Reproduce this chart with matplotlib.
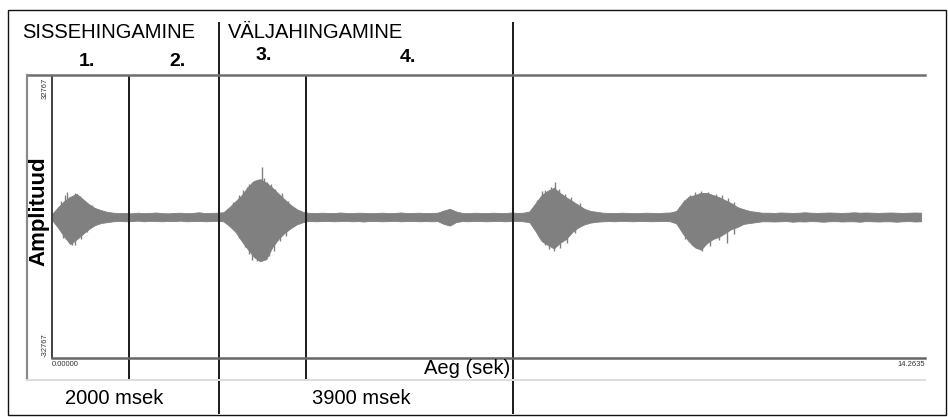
import matplotlib
matplotlib.use("Agg")
import matplotlib.pyplot as plt
import numpy as np
from matplotlib.lines import Line2D
from matplotlib.patches import Rectangle

plt.rcParams['font.family'] = ['Liberation Sans', 'DejaVu Sans']

# ---- data ---------------------------------------------------------------
t_end = 14.2635          # seconds on the time axis
full_scale = 32767       # amplitude limit
step = 0.1               # envelope sampled every 0.1 s

# upper envelope (sample units), 0.0 ... 14.2 s
upper = [700, 2300, 3700, 4700, 5400, 4200, 3000, 2100, 1600, 1200, 1000,
         900, 950, 850, 1000, 900, 950, 1050, 900, 850, 950, 1000, 900, 950, 1100, 900, 950, 1000,
         1100, 2300, 3700, 5100, 7000, 8400, 8800, 8000, 6800, 5400, 4100, 2800, 1800, 1200,
         950, 900, 1000, 950, 900, 1050, 950, 900, 1000, 950, 900, 950, 1000, 900, 950, 1050,
         900, 950, 1000, 900, 950, 1000,
         1500, 1900, 1300,
         950, 900, 1000, 950, 900, 1000, 950, 900, 1050, 950, 1000,
         1300, 3200, 5100, 6100, 6800, 5600, 4600, 3700, 2800, 1900, 1400, 1200, 1000,
         950, 900, 1000, 950, 900, 950, 1000, 950, 900, 1000, 1050,
         1400, 3300, 4700, 5100, 5600, 5600, 5100, 4600, 3900, 3200, 2300, 1800, 1400, 1200, 1000,
         1000, 950, 1050, 1000, 950, 1000, 1100, 1000, 950, 1000, 1050, 1000, 950, 1000, 1100,
         1000, 1050, 1000, 950, 1000, 1050, 1000, 950, 1000, 1050, 1000]

# lower envelope (magnitude below zero)
lower = [700, 2500, 4600, 6300, 5200, 4000, 2800, 1900, 1400, 1200, 1000,
         900, 1000, 950, 850, 1000, 900, 950, 1000, 900, 950, 850, 1000, 950, 900, 1000, 950, 900,
         1000, 2100, 3500, 5600, 7500, 9300, 10300, 9800, 7000, 5100, 3700, 2600, 1700, 1200,
         900, 1000, 950, 900, 1000, 950, 900, 1000, 950, 1050, 900, 950, 1000, 950, 900, 1000,
         950, 900, 1000, 950, 1000, 950,
         1600, 2000, 1200,
         950, 1000, 900, 950, 1000, 950, 900, 1000, 950, 900, 1000,
         1200, 3300, 5600, 6500, 7300, 6000, 5100, 3500, 2400, 1700, 1300, 1100, 1000,
         950, 1000, 900, 950, 1000, 900, 950, 1000, 950, 900, 1000,
         1500, 3700, 5600, 7000, 7600, 6100, 5100, 4600, 3700, 2800, 2300, 1600, 1400, 1200, 1000,
         1000, 1050, 1000, 950, 1100, 1000, 1050, 950, 1000, 1100, 1000, 950, 1050, 1000, 1000,
         1100, 950, 1000, 1050, 1000, 1000, 1100, 1000, 950, 1050, 1000]

# single spikes sticking out of the envelope (time s, value)
spike_t = [0.15, 0.22, 0.25, 0.28, 0.37, 0.45, 0.55, 0.65,
           0.18, 0.27, 0.33, 0.38, 0.48, 0.58,
           2.95, 3.05, 3.12, 3.19, 3.22, 3.27, 3.35, 3.43, 3.47, 3.51, 3.57, 3.65, 3.75, 3.85,
           3.05, 3.15, 3.22, 3.27, 3.35, 3.43, 3.49, 3.55, 3.62, 3.72, 3.82,
           7.92, 8.00, 8.06, 8.15, 8.22, 8.28, 8.38, 8.48, 8.62,
           7.95, 8.05, 8.12, 8.20, 8.30, 8.42, 8.55,
           10.32, 10.42, 10.50, 10.60, 10.72, 10.85, 10.95, 11.05, 11.15,
           10.35, 10.45, 10.53, 10.62, 10.75, 10.90, 11.03, 11.15]
spike_v = [3800, 5000, 5800, 4600, 5600, 4800, 3600, 2800,
           -4800, -6000, -6500, -6400, -5000, -3500,
           3600, 5000, 6200, 7000, 7600, 8100, 8400, 11600, 9000, 8100, 7600, 6600, 5600, 3800,
           -4800, -7000, -8600, -10000, -10300, -10000, -9800, -9000, -7800, -5600, -4300,
           4000, 6000, 6300, 6900, 8100, 6600, 5400, 4600, 3200,
           -4600, -6500, -7500, -7800, -7200, -6000, -3800,
           4000, 5200, 5800, 6000, 5800, 5400, 5000, 4400, 3600,
           -5000, -6500, -7200, -8000, -6700, -5400, -6000, -3900]

# phase boundaries (s)
phase_bounds = [1.26, 2.73, 4.15, 7.53]
phase_names = ["SISSEHINGAMINE", "VÄLJAHINGAMINE"]
phase_nums = ["1.", "2.", "3.", "4."]
durations = ["2000 msek", "3900 msek"]

# ---------------------------------------------------------------------------
W, H = 948, 417
fig = plt.figure(figsize=(W / 100, H / 100), dpi=100)

def fx(x):
    return x / W

def fy(y):
    return 1 - y / H

# plot area in pixels: x 52..925, y 76..358
ax = fig.add_axes([fx(52), fy(358), fx(925) - fx(52), fy(76) - fy(358)])

t = np.arange(len(upper)) * step
up = np.array(upper)
lo = -np.array(lower)
wave_col = "#808080"
ax.fill_between(t, lo, up, color=wave_col, linewidth=0.6, edgecolor=wave_col)
ax.vlines(spike_t, 0, spike_v, color=wave_col, linewidth=1.0)

ax.set_xlim(0, t_end)
ax.set_ylim(-full_scale, full_scale)
ax.set_xticks([])
ax.set_yticks([])
for s in ["top", "right"]:
    ax.spines[s].set_visible(False)
ax.spines["left"].set_color("#333333")
ax.spines["left"].set_linewidth(1.3)
ax.spines["bottom"].set_color("#666666")
ax.spines["bottom"].set_linewidth(1.8)

# tiny range labels
ax.text(-0.004, 0.995, "32767", transform=ax.transAxes, rotation=90, fontsize=5.5,
        ha="right", va="top", color="#333333")
ax.text(-0.004, 0.005, "-32767", transform=ax.transAxes, rotation=90, fontsize=5.5,
        ha="right", va="bottom", color="#333333")
ax.text(0.0, -0.012, "0.00000", transform=ax.transAxes, fontsize=5.5, ha="left", va="top", color="#333333")
ax.text(1.0, -0.012, f"{t_end:.4f}", transform=ax.transAxes, fontsize=5.5, ha="right", va="top", color="#333333")

# outer box
fig.add_artist(Rectangle((fx(8), fy(415)), fx(946) - fx(8), fy(10) - fy(415),
                         transform=fig.transFigure, fill=False, edgecolor="#111111", linewidth=1.0))
# gray frame around the waveform panel
fig.add_artist(Line2D([fx(27), fx(925)], [fy(75), fy(75)], color="#6e6e6e", linewidth=1.8))
fig.add_artist(Line2D([fx(27), fx(27)], [fy(75), fy(380)], color="#8a8a8a", linewidth=1.6))
fig.add_artist(Line2D([fx(27), fx(925)], [fy(380), fy(380)], color="#dddddd", linewidth=1.4))

# phase boundary lines (x in data, y in axes fraction)
tr = ax.get_xaxis_transform()
def ay(y):
    return (358 - y) / (358 - 76)
long_top, long_bot = ay(23), ay(413)
short_top, short_bot = ay(76), ay(380)
for i, b in enumerate(phase_bounds):
    if i in (1, 3):
        y0, y1 = long_bot, long_top
    else:
        y0, y1 = short_bot, short_top
    ax.add_line(Line2D([b, b], [y0, y1], transform=tr, color="#1a1a1a",
                       linewidth=1.4, clip_on=False))

# labels
fig.text(fx(22), fy(33), phase_names[0], fontsize=14.5, ha="left", va="center")
fig.text(fx(228), fy(33), phase_names[1], fontsize=14.5, ha="left", va="center")
for name, (xx, yy) in zip(phase_nums, [(87, 62), (177, 61), (264, 56), (408, 58)]):
    fig.text(fx(xx), fy(yy), name, fontsize=14, fontweight="bold", ha="center", va="center")

fig.text(fx(114), fy(399), durations[0], fontsize=14.5, ha="center", va="center")
fig.text(fx(361), fy(399), durations[1], fontsize=14.5, ha="center", va="center")
fig.text(fx(510), fy(369), "Aeg (sek)", fontsize=14.5, ha="right", va="center")
fig.text(fx(39), fy(211), "Amplituud", fontsize=16, fontweight="bold", rotation=90,
         ha="center", va="center")

fig.savefig("out.png", dpi=100)
